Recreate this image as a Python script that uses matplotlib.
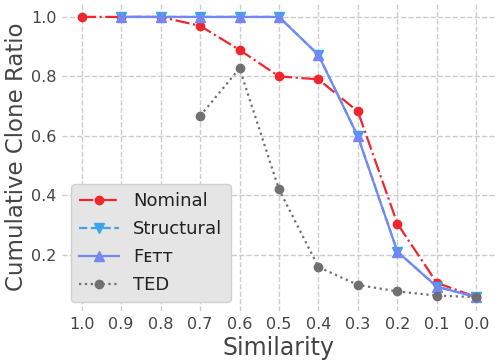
import numpy as np
import matplotlib.pyplot as plt

# Similarity thresholds (x axis, reversed)
similarity = [1.0, 0.9, 0.8, 0.7, 0.6, 0.5, 0.4, 0.3, 0.2, 0.1, 0.0]

nominal = [1.0, 1.0, 1.0, 0.97, 0.889, 0.80, 0.79, 0.682, 0.305, 0.106, 0.058]
structural = [None, 1.0, 1.0, 1.0, 1.0, 1.0, 0.872, 0.598, 0.211, 0.093, 0.058]
fett = [None, 1.0, 1.0, 1.0, 1.0, 1.0, 0.872, 0.598, 0.211, 0.093, 0.058]
ted = [None, None, None, 0.667, 0.827, 0.42, 0.159, 0.099, 0.077, 0.063, 0.058]

xticklabels = ["1.0", "0.9", "0.8", "0.7", "0.6", "0.5", "0.4", "0.3", "0.2", "0.1", "0.0"]


def clean(vals):
    return np.array([np.nan if v is None else v for v in vals], dtype=float)


fig = plt.figure(figsize=(5.0, 3.63), dpi=100)
ax = fig.add_axes([0.124, 0.143, 0.868, 0.849])

x = np.array(similarity)
ax.plot(x, clean(nominal), color="#f0262e", linestyle="-.", lw=1.6,
        marker="o", markersize=6, label="Nominal")
ax.plot(x, clean(structural), color="#3aa5ea", linestyle="--", lw=1.6,
        marker="v", markersize=7, label="Structural")
ax.plot(x, clean(fett), color="#7488f5", linestyle="-", lw=1.6,
        marker="^", markersize=7, label="F\u1d07\u1d1b\u1d1b")
ax.plot(x, clean(ted), color="#707070", linestyle=":", lw=1.6,
        marker="o", markersize=6, label="TED")

ax.invert_xaxis()
ax.set_xticks(similarity)
ax.set_xticklabels(xticklabels)
ax.set_yticks([0.2, 0.4, 0.6, 0.8, 1.0])

for s in ax.spines.values():
    s.set_visible(False)
ax.tick_params(length=0, labelsize=11.5, pad=4, labelcolor="#444444")
ax.grid(True, linestyle="--", color="#cccccc", lw=1)
ax.set_axisbelow(True)

ax.set_xlabel("Similarity", fontsize=17, color="#444444", labelpad=3)
ax.set_ylabel("Cumulative Clone Ratio", fontsize=16.5, color="#444444", labelpad=2)

leg = ax.legend(loc="lower left", fontsize=13, facecolor="#e5e5e5",
                edgecolor="#d0d0d0", framealpha=1, handlelength=2.2,
                borderpad=0.45, labelspacing=0.55, handletextpad=0.8,
                bbox_to_anchor=(0.0, 0.0))
for t in leg.get_texts():
    t.set_color("#222222")

fig.savefig("out.png", dpi=100)
